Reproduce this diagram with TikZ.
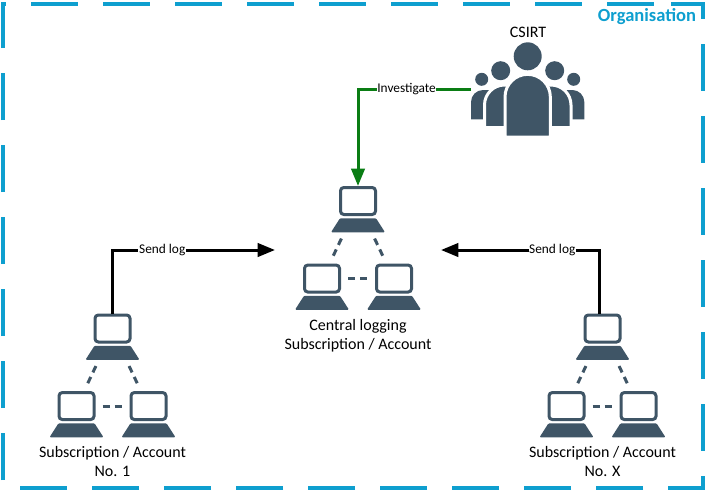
\documentclass[tikz,border=0pt]{standalone}
\usepackage{fontspec}
\setmainfont{Carlito}
\usepackage{xcolor}
\usepackage{tikz}
\usetikzlibrary{positioning, arrows.meta, shapes.geometric, calc}

\definecolor{slate}{HTML}{3F5566}
\definecolor{orgblue}{HTML}{0E9FCF}
\definecolor{invgreen}{HTML}{0A7D14}

% one group of three laptops: name, x, y of the top screen
\newcommand{\lognet}[3]{
    \node [screen] (#1t) at (#2,#3) {};
    \node [laptopbase, below=1.5pt of #1t] (#1tb) {};
    \node [screen, below=23.25pt of #1tb, xshift=-27pt] (#1l) {};
    \node [laptopbase, below=1.5pt of #1l] (#1lb) {};
    \node [screen, below=23.25pt of #1tb, xshift=27pt] (#1r) {};
    \node [laptopbase, below=1.5pt of #1r] (#1rb) {};
    \draw [netlink, shorten <=5pt, shorten >=6.5pt] ($(#1tb.south)!.5!(#1tb.bottom left corner)$) -- ($(#1l.north)!.4!(#1l.north east)$);
    \draw [netlink, shorten <=5pt, shorten >=6.5pt] ($(#1tb.south)!.5!(#1tb.bottom right corner)$) -- ($(#1r.north)!.4!(#1r.north west)$);
    \draw [netlink, shorten <=5.25pt, shorten >=6pt] (#1l.east) -- (#1r.west);
}

\begin{document}
\begin{tikzpicture}[x=0.75pt, y=-0.75pt]
    \tikzstyle{screen} = [rectangle, draw=slate, line width=2.25pt, fill=white, minimum width=26.25pt, minimum height=20.25pt, inner sep=0pt, rounded corners=2.5pt]
    \tikzstyle{laptopbase} = [trapezium, trapezium stretches=true, trapezium angle=76, fill=slate, minimum width=40.5pt, minimum height=10.5pt, inner sep=1pt, rounded corners=0.8pt]
    \tikzstyle{netlink} = [draw=slate, line width=2.25pt, dash pattern=on 5.25pt off 3.75pt]
    \tikzstyle{caption} = [align=center, font=\fontsize{12}{14.2}\selectfont, text=black]
    \tikzstyle{linelabel} = [fill=white, inner sep=0.5pt, font=\fontsize{10}{11}\selectfont]
    \tikzstyle{arrow} = [line width=2.25pt, -{Stealth[length=13pt, width=10pt, inset=0pt]}]
    \tikzstyle{headshape} = [circle, fill=slate, inner sep=0pt]
    \tikzstyle{person} = [fill=slate, draw=white, line width=2.25pt]

    \useasboundingbox (0,0) rectangle (707,490);

    % dashed frame
    \draw [draw=orgblue, line width=2.4pt, dash pattern=on 35.25pt off 18.75pt] (671,4) -- (703,4) -- (703,488) -- (3,488) -- (3,4) -- cycle;
    \node [font=\fontsize{13.9}{15}\selectfont\bfseries, text=orgblue] (org) at (647,17) {Organisation};

    \lognet{c}{358}{201}
    \lognet{a}{112.5}{328.5}
    \lognet{x}{602.5}{328.5}

    \node [caption] (clog) at (358,335.5) {Central logging\\Subscription / Account};
    \node [caption] (alog) at (112.5,461.5) {Subscription / Account\\No. 1};
    \node [caption] (xlog) at (602.5,461.5) {Subscription / Account\\No. X};

    % people
    \node [font=\fontsize{12}{14}\selectfont] (csirt) at (528,32) {CSIRT};
    \node [headshape, minimum size=9.75pt] (h1) at (481.7,79.3) {};
    \node [headshape, minimum size=9.75pt] (h5) at (573.7,79.3) {};
    \node [headshape, minimum size=14.25pt] (h2) at (500.7,70.7) {};
    \node [headshape, minimum size=14.25pt] (h4) at (554.7,70.7) {};
    \node [headshape, minimum size=21pt] (h3) at (527.7,56.3) {};
    \fill [slate] (471,119.3) -- (471,102) arc[start angle=180, end angle=90, radius=9pt] -- (495,90) -- (495,119.3) -- cycle;
    \fill [slate] (584.3,119.3) -- (584.3,102) arc[start angle=0, end angle=90, radius=9pt] -- (560,90) -- (560,119.3) -- cycle;
    \draw [person] (484.5,127.5) -- (484.5,105) arc[start angle=180, end angle=90, radius=15pt] -- (525,85) -- (525,127.5) -- cycle;
    \draw [person] (571,127.5) -- (571,105) arc[start angle=0, end angle=90, radius=15pt] -- (530,85) -- (530,127.5) -- cycle;
    \draw [person] (505,137) -- (505,97) arc[start angle=180, end angle=0, radius=17pt] -- (550.3,137) -- cycle;

    % connectors
    \coordinate (aend) at (275,250);
    \coordinate (xend) at (441,250);
    \coordinate (inv) at (471,89);
    \draw [arrow] (at.north) |- node [linelabel, pos=0.653] (sl1) {Send log} (aend);
    \draw [arrow] ([xshift=-1.9pt]xt.north) |- node [linelabel, pos=0.65] (slx) {Send log} (xend);
    \draw [arrow, draw=invgreen] (inv) -| node [linelabel, pos=0.285] (il) {Investigate} (ct.north);
\end{tikzpicture}
\end{document}
